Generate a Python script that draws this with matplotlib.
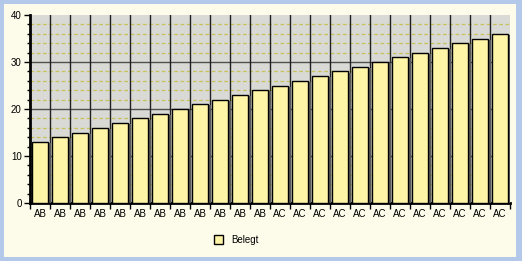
import matplotlib
matplotlib.use("Agg")
import matplotlib.pyplot as plt
import matplotlib.patheffects as pe
from matplotlib.patches import Rectangle
from matplotlib.ticker import MultipleLocator, FixedLocator, NullFormatter
import numpy as np

categories = ["AB"] * 12 + ["AC"] * 12
values = [13, 14, 15, 16, 17, 18, 19, 20, 21, 22, 23, 24,
          25, 26, 27, 28, 29, 30, 31, 32, 33, 34, 35, 36]
series_name = "Belegt"

plt.rcParams['font.family'] = ['Liberation Sans', 'DejaVu Sans']

fig = plt.figure(figsize=(5.22, 2.61), dpi=100)
fig.patch.set_facecolor('#b4c8ea')
# inner background
fig.add_artist(Rectangle((4/522, 4/261), 1 - 10/522, 1 - 8/261, transform=fig.transFigure,
                         facecolor='#fdfcea', edgecolor='none', zorder=0))

ax = fig.add_axes([30/522, 1 - 203/261, 480/522, 188/261])
ax.set_facecolor('#d9d9d6')

x = np.arange(len(values))
bars = ax.bar(x, values, width=0.8, color='#fff5a6', edgecolor='black', linewidth=1.0,
              zorder=3, label=series_name)
for b in bars:
    b.set_path_effects([pe.SimplePatchShadow(offset=(2.2, -0.8), shadow_rgbFace='#5a5a5a', alpha=1.0),
                        pe.Normal()])

ax.set_xlim(-0.5, len(values) - 0.5)
ax.set_ylim(0, 40)

# horizontal grid
ax.yaxis.set_major_locator(MultipleLocator(10))
ax.yaxis.set_minor_locator(MultipleLocator(2))
for yv in range(2, 40, 2):
    if yv % 10 == 0:
        ax.axhline(yv, color='#505050', lw=1.0, zorder=1)
    else:
        ax.axhline(yv, color='#c9c25a', lw=0.9, ls=(0, (3, 2)), zorder=1)
# vertical grid at category boundaries
for xb in np.arange(0.5, len(values) - 0.5, 1):
    ax.axvline(xb, color='#202020', lw=1.0, zorder=1)

ax.set_xticks(x)
ax.set_xticklabels(categories, fontsize=7)
ax.xaxis.set_minor_locator(FixedLocator(np.arange(-0.5, len(values), 1)))
ax.tick_params(axis='x', which='major', length=0, pad=4)
ax.tick_params(axis='x', which='minor', length=4, width=1, color='black', direction='out')
ax.tick_params(axis='y', which='major', length=4, width=1, labelsize=7, pad=2)
ax.tick_params(axis='y', which='minor', length=2, width=1)

for s in ['top', 'right']:
    ax.spines[s].set_visible(False)
ax.spines['left'].set_linewidth(2)
ax.spines['bottom'].set_linewidth(2)

handles, labels = ax.get_legend_handles_labels()
leg = fig.legend(handles, labels, loc='center', bbox_to_anchor=(236/522, 1 - 240/261),
                 frameon=False, fontsize=7, handlelength=1.0, handleheight=1.0,
                 handletextpad=0.8)
for h in leg.legend_handles:
    h.set_path_effects([])

fig.savefig('out.png', dpi=100, facecolor=fig.get_facecolor())
